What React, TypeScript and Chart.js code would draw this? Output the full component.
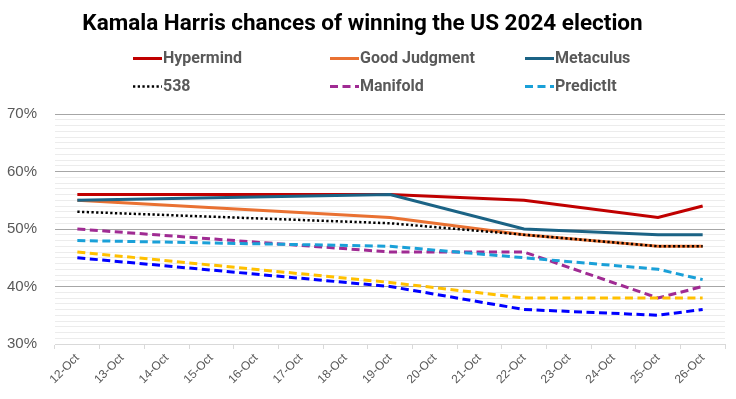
import React, { useEffect, useRef } from "react";
import { Chart, registerables } from "chart.js";

Chart.register(...registerables);

const dates = ["12-Oct","13-Oct","14-Oct","15-Oct","16-Oct","17-Oct","18-Oct","19-Oct","20-Oct","21-Oct","22-Oct","23-Oct","24-Oct","25-Oct","26-Oct"];
const N = null;
const hypermind = [56, N, N, N, N, N, N, 56, N, N, 55, N, N, 52, 54];
const goodJudgment = [55, N, N, N, N, N, N, 52, N, N, 49, N, N, 47, 47];
const metaculus = [55, N, N, N, N, N, N, 56, N, N, 50, N, N, 49, 49];
const fiveThirtyEight = [53, N, N, N, N, N, N, 51, N, N, 49, N, N, 47, 47];
const manifold = [50, N, N, N, N, N, N, 46, N, N, 46, N, N, 38, 40];
const predictIt = [48, N, N, N, N, N, N, 47, N, N, 45, N, N, 43, 41.2];
const unlabeledYellow = [46, N, N, N, N, N, N, 40.7, N, N, 38, N, N, 38, 38];
const unlabeledBlue = [45, N, N, N, N, N, N, 40, N, N, 36, N, N, 35, 36];
const seriesNames = ["Hypermind", "Good Judgment", "Metaculus", "538", "Manifold", "PredictIt", "", ""];
const yMin = 30;
const yMax = 70;

const TITLE = "Kamala Harris chances of winning the US 2024 election";

const LEGEND_COLS = [133, 330, 525];
const LEGEND_ROWS = [58, 86];

const gridLegend = {
  id: "gridLegend",
  afterDraw(chart: any) {
    const ctx = chart.ctx;
    const items = chart.data.datasets.slice(0, 6);
    ctx.save();
    items.forEach((ds: any, i: number) => {
      const x = LEGEND_COLS[i % 3];
      const y = LEGEND_ROWS[Math.floor(i / 3)];
      ctx.beginPath();
      ctx.strokeStyle = ds.borderColor;
      ctx.lineWidth = ds.borderWidth;
      ctx.setLineDash(ds.borderDash || []);
      ctx.lineCap = "butt";
      ctx.moveTo(x, y + 0.5);
      ctx.lineTo(x + 29, y + 0.5);
      ctx.stroke();
      ctx.setLineDash([]);
      ctx.fillStyle = "#595959";
      ctx.font = "bold 16px Roboto";
      ctx.textAlign = "left";
      ctx.textBaseline = "middle";
      ctx.fillText(ds.label, x + 30, y + 1);
    });
    ctx.restore();
  },
};

export default function App() {
  const ref = useRef<HTMLCanvasElement | null>(null);
  useEffect(() => {
    if (!ref.current) return;
    const mk = (i: number, data: (number | null)[], color: string, width: number, dash?: number[]) => ({
      label: seriesNames[i],
      data,
      borderColor: color,
      backgroundColor: color,
      borderWidth: width,
      borderDash: dash || [],
      borderCapStyle: "butt",
      pointRadius: 0,
      pointHoverRadius: 0,
      tension: 0,
      spanGaps: true,
      order: 20 - i,
    });
    const chart = new Chart(ref.current, {
      type: "line",
      data: {
        labels: dates,
        datasets: [
          mk(0, hypermind, "#C00000", 3),
          mk(1, goodJudgment, "#E97132", 3),
          mk(2, metaculus, "#1B6385", 3),
          mk(3, fiveThirtyEight, "#000000", 2.5, [2.3, 2.4]),
          mk(4, manifold, "#A02B93", 3, [8, 4.5]),
          mk(5, predictIt, "#1AA0D8", 3, [8, 4.5]),
          mk(6, unlabeledYellow, "#FFC000", 3, [8, 4.5]),
          mk(7, unlabeledBlue, "#0000FF", 3, [8, 4.5]),
        ],
      },
      options: {
        animation: false,
        responsive: true,
        maintainAspectRatio: false,
        layout: { padding: { left: 0, right: 11, top: 0, bottom: 0 } },
        plugins: {
          legend: { display: false },
          tooltip: { enabled: false },
          title: {
            display: true,
            text: TITLE,
            color: "#000000",
            font: { family: "Roboto", size: 22.5, weight: "bold", lineHeight: 1.2 },
            padding: { top: 11, bottom: 76 },
          },
        },
        scales: {
          x: {
            type: "category",
            offset: true,
            grid: {
              offset: true,
              drawOnChartArea: false,
              drawTicks: true,
              tickLength: 5,
              color: "#d9d9d9",
            },
            border: { color: "#d9d9d9" },
            ticks: {
              autoSkip: false,
              maxRotation: 45,
              minRotation: 45,
              color: "#595959",
              font: { family: "Liberation Sans", size: 12 },
              padding: 2,
            },
            afterFit(scale: any) {
              scale.height = 55;
            },
          },
          y: {
            min: yMin,
            max: yMax,
            border: { display: false },
            grid: {
              drawTicks: false,
              color: (c: any) =>
                c.tick.value === yMin ? "rgba(0,0,0,0)" : c.tick.value % 10 === 0 ? "#a6a6a6" : "#ececec",
            },
            ticks: {
              stepSize: 1,
              autoSkip: false,
              padding: 18,
              color: "#595959",
              font: { family: "Liberation Sans", size: 15 },
              callback: (v: any) => (Number(v) % 10 === 0 ? v + "%" : ""),
            },
            afterFit(scale: any) {
              scale.width = 55;
            },
          },
        },
      },
      plugins: [gridLegend],
    } as any);
    return () => chart.destroy();
  }, []);
  return (
    <div style={{ position: "fixed", left: 0, top: 0, width: 736, height: 399, background: "#fff" }}>
      <canvas ref={ref} />
    </div>
  );
}
